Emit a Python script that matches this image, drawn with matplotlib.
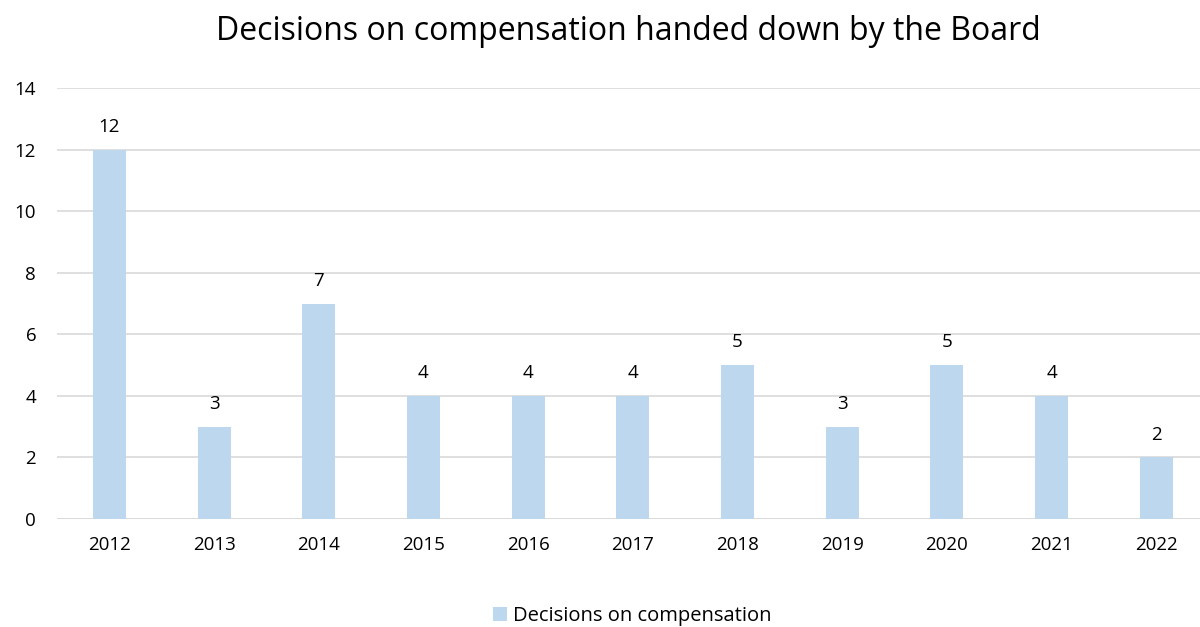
import matplotlib
matplotlib.use("Agg")
import matplotlib.pyplot as plt

years = ["2012", "2013", "2014", "2015", "2016", "2017", "2018", "2019", "2020", "2021", "2022"]
decisions = [12, 3, 7, 4, 4, 4, 5, 3, 5, 4, 2]
series_name = "Decisions on compensation"
title = "Decisions on compensation handed down by the Board"

plt.rcParams['font.family'] = ['Open Sans', 'DejaVu Sans']
W, H = 1200, 627
fig = plt.figure(figsize=(W/100, H/100), dpi=100)
left, right = 57, 1200
bottom_px, top_px = 519, 88
ax = fig.add_axes([left/W, 1 - bottom_px/H, (right-left)/W, (bottom_px-top_px)/H])

x = list(range(len(years)))
ax.bar(x, decisions, width=0.315, color="#BDD7EE", label=series_name, zorder=2)
ax.set_xlim(-0.5, -0.5 + (right-left)/104.7)
ax.set_ylim(0, 14)
ax.set_yticks(range(0, 15, 2))
ax.set_xticks(x)
ax.set_xticklabels(years)
ax.grid(axis='y', color="#D9D9D9", linewidth=1.2, zorder=0)
for s in ax.spines.values():
    s.set_visible(False)
ax.axhline(0, color="#D9D9D9", linewidth=1.2, zorder=1)
ax.tick_params(axis='both', length=0, labelsize=13.5, colors="#000000")
ax.tick_params(axis='x', pad=12)
ax.tick_params(axis='y', pad=15)

for xi, v in zip(x, decisions):
    ax.annotate(str(v), (xi, v), xytext=(0, 10), textcoords='offset points',
                ha='center', va='bottom', fontsize=13.5)

fig.text(628/W, 1 - 32/H, title, ha='center', va='center', fontsize=23)
fig.legend(loc='center', bbox_to_anchor=(632/W, 1 - 616/H), frameon=False,
           fontsize=14.5, handlelength=0.7, handleheight=0.7, handletextpad=0.3)
fig.savefig("out.png", dpi=100)
